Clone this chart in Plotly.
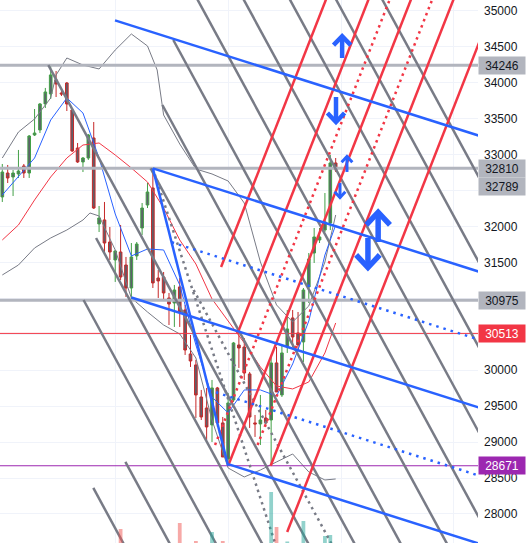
import plotly.graph_objects as go

# ---------------- candles (bar index 0..62) ----------------
OPEN = [32412,32745,32690,32732,32843,32745,33274,33344,33706,33845,
        34040,33859,33998,33622,33093,32899,32954,33233,32036,32092,
        31785,31535,31646,31465,31145,31591,31980,32300,32537,31284,
        31298,31006,30936,31159,30839,30227,30074,29628,29475,29239,
        29754,29267,28765,29587,30352,30324,29949,29267,29253,29336,
        29308,30102,29656,30324,30728,30519,30394,31159,31632,31813,
        31952,32050,32885]
HIGH = [32871,32857,32787,33066,32871,33274,33636,33720,33929,34246,
        34165,33901,34012,33636,33163,32968,33288,33455,32286,32342,
        31994,31674,32022,31577,31771,31785,32328,32606,32810,31396,
        31368,31076,31187,31284,30909,30491,30143,29726,29754,29865,
        29768,29350,29684,30394,30519,30449,29977,29378,29656,29447,
        30213,30324,30352,30839,30839,30811,31145,31632,31980,31980,
        32467,32996,32954]
LOW = [32342,32606,32425,32676,32676,32676,33260,33302,33650,33775,
       33803,33817,33608,33038,32885,32759,32927,32245,31924,31632,
       31535,31229,31256,31020,30975,31535,31883,32258,31145,31006,
       30992,30630,30603,30603,30213,30046,29336,29308,29030,29002,
       29211,28793,28671,29559,30032,29865,29197,29072,28960,29211,
       28690,29698,29628,30241,30324,30282,30115,30936,31493,31771,
       31924,31952,32759]
CLOSE = [32759,32676,32745,32773,32745,33260,33302,33706,33873,34110,
         33984,33845,33706,33052,32899,32954,33274,32258,32119,31771,
         31646,31660,31298,31145,31577,31757,32258,32481,31215,31243,
         31076,30922,31117,30811,30282,30129,29656,29350,29211,29754,
         29267,28793,29545,30380,30310,29962,29350,29253,29308,29267,
         30102,29698,30241,30575,30463,30352,31117,31549,31855,31855,
         32064,32885,32789]
VOLUME = [820,760,700,740,690,900,780,850,830,940,
          760,700,820,960,880,720,870,990,760,830,
          760,700,1140,880,930,780,860,900,990,760,
          740,800,770,1200,930,850,1020,880,900,1110,
          870,1020,980,950,720,800,900,760,820,790,
          1510,1160,990,1015,850,800,1220,960,880,700,
          1070,1080,750]
BARS = list(range(len(OPEN)))

# ---------------- indicators ----------------
MA_X = [0,3,6,9,12,15,18,21,24,27,30,33,36,39,42,45,48,51,54,57,60,62]
MA_Y = [31813,32022,32370,32690,32954,33135,33163,32996,32815,32620,32258,
        31813,31479,30992,30686,30380,30046,29781,29740,29837,30241,30658]
EMA_X = MA_X
EMA_Y = [32439,32690,32954,33483,33789,33580,32954,32175,31591,31688,31674,
         31187,30352,29628,29406,29726,29726,29642,30088,30686,31604,32022]
UB_X = [0,3,6,9,10,12,15,18,21,24,27,28.8,30,33,36,39,42,45,48,51,54,57,60,62]
UB_Y = [32954,33316,33497,33789,34109,34346,34248,34193,34457,34680,34513,34179,
        33553,33149,32801,32732,32634,32328,31507,30909,30672,30895,31507,32161]
LB_X = [0,3,6,9,12,15,16.3,18,21,24,27,30,33,36,39,42,45,48,51,54,57,60,62]
LB_Y = [31326,31465,31702,31841,31952,32091,32189,32147,31674,31006,30811,30630,
        30505,30171,29308,28640,28515,28612,28724,28835,28585,28473,28487]

# ---------------- axes ----------------
X_RANGE = [-0.43, 88.47]
Y_RANGE = [27596, 35153]
Y_TICKS = list(range(28000, 35001, 500))
Y_HIDDEN = [30500, 31000, 32500]          # covered by price labels in the reference
Y_TICK_TEXT = ['' if v in Y_HIDDEN else str(v) for v in Y_TICKS]
GRID_BARS = [21, 42, 63, 84]

# ---------------- horizontal levels ----------------
GRAY_LEVELS = [34246, 32810, 30975]
RED_LEVEL = 30513
PURPLE_LEVEL = 28671
LAST_CLOSE = 32789

# ---------------- gray parallel channel (down-right) ----------------
GRAY_REF_PRICE = 28334
GRAY_REF_BAR = 25.72
GRAY_STEP = 8.592
GRAY_SLOPE = -137.7
GRAY_K = [-1, 0, 1, 2, 3, 4, 5, 6, 7, 8, 9, 10, 11]
GRAY_START = [28362, 28724, 30978, 31841, 34246, 32810, 33692, 34596,
              None, None, None, None, None]
GRAY_DOT_K = [3.5]
GRAY_DOT_START = [31117]

# ---------------- pitchfork pivots ----------------
PIVOT_A = (28, 32810)
PIVOT_B = (42, 28671)
PIVOT_C = (50, 28690)

# ---------------- red parallel channel (up-right) ----------------
RED_REF_PRICE = 28671
RED_REF_BAR = 42.0
RED_STEP = 7.904
RED_SLOPE = 190.8
RED_J = [-2, -1, 0, 1, 2]
RED_START = [31437, 30513, 28671, 28671, 27750]
RED_DOT_J = [-0.5, 0.5]
RED_DOT_START = [28960, 28960]

# ---------------- blue channel ----------------
BLUE_SLOPE = -23.7
BLUE_HEIGHT = 3785
BLUE_LEVELS = [-0.5, 0, 0.25, 0.5, 0.75, 1]
BLUE_START = [20.96, 28, 31.5, 24, 38.4, 42]
BLUE_DOTTED = [False, False, True, False, True, False]

# ---------------- arrows: bar, tail price, tip price, head half-width (bars), head height, width ----------------
ARROWS = [
    (63.2, 34346, 34650, 1.6, 125, 4.5),
    (62.06, 33803, 33455, 1.6, 125, 4.5),
    (64.1, 32760, 32975, 1.0, 80, 3),
    (62.8, 32606, 32405, 1.0, 80, 3),
    (69.9, 31785, 32200, 2.2, 175, 5.5),
    (68.0, 31841, 31430, 2.2, 175, 5.5),
]

GRAY_C = '#787b86'
RED_C = '#f23645'
BLUE_C = '#2962ff'
LEVEL_C = '#b2b5be'
PURPLE_C = '#9c27b0'
TOP_P, BOT_P = 36500, 26800

fig = go.Figure()

# volume
vol_colors = ['rgba(38,166,154,0.5)' if c >= o else 'rgba(239,83,80,0.5)'
              for o, c in zip(OPEN, CLOSE)]
fig.add_trace(go.Bar(x=BARS, y=VOLUME, marker_color=vol_colors, marker_line_width=0,
                     width=0.7, yaxis='y2', hoverinfo='skip'))

# indicators
fig.add_trace(go.Scatter(x=UB_X, y=UB_Y, mode='lines', line=dict(color=GRAY_C, width=1)))
fig.add_trace(go.Scatter(x=LB_X, y=LB_Y, mode='lines', line=dict(color=GRAY_C, width=1)))
fig.add_trace(go.Scatter(x=MA_X, y=MA_Y, mode='lines', line=dict(color=RED_C, width=1)))
fig.add_trace(go.Scatter(x=EMA_X, y=EMA_Y, mode='lines', line=dict(color=BLUE_C, width=1)))

# candles
fig.add_trace(go.Candlestick(
    x=BARS, open=OPEN, high=HIGH, low=LOW, close=CLOSE, whiskerwidth=0,
    increasing=dict(line=dict(color='#43a047', width=1), fillcolor='#5d606b'),
    decreasing=dict(line=dict(color='#c62828', width=1), fillcolor='#5d606b'),
    hoverinfo='skip'))

# horizontal levels
for lv in GRAY_LEVELS:
    fig.add_trace(go.Scatter(x=[X_RANGE[0] - 5, X_RANGE[1] + 5], y=[lv, lv], mode='lines',
                             line=dict(color=LEVEL_C, width=3)))
fig.add_trace(go.Scatter(x=[X_RANGE[0] - 5, X_RANGE[1] + 5], y=[RED_LEVEL, RED_LEVEL], mode='lines',
                         line=dict(color=RED_C, width=1)))
fig.add_trace(go.Scatter(x=[X_RANGE[0] - 5, X_RANGE[1] + 5], y=[PURPLE_LEVEL, PURPLE_LEVEL], mode='lines',
                         line=dict(color=PURPLE_C, width=1)))


def collect(segs):
    xs, ys = [], []
    for (x0, y0), (x1, y1) in segs:
        xs += [x0, x1, None]
        ys += [y0, y1, None]
    return xs, ys


# gray channel
def gray_bar(k, p):
    return GRAY_REF_BAR + GRAY_STEP * k + (p - GRAY_REF_PRICE) / GRAY_SLOPE


segs = []
for k, s in zip(GRAY_K, GRAY_START):
    s = TOP_P if s is None else s
    segs.append(((gray_bar(k, s), s), (gray_bar(k, BOT_P), BOT_P)))
xs, ys = collect(segs)
fig.add_trace(go.Scatter(x=xs, y=ys, mode='lines', line=dict(color=GRAY_C, width=2.5)))

segs = []
for k, s in zip(GRAY_DOT_K, GRAY_DOT_START):
    segs.append(((gray_bar(k, s), s), (gray_bar(k, BOT_P), BOT_P)))
# median from A through midpoint of B and C
mid = ((PIVOT_B[0] + PIVOT_C[0]) / 2, (PIVOT_B[1] + PIVOT_C[1]) / 2)
msl = (mid[1] - PIVOT_A[1]) / (mid[0] - PIVOT_A[0])
segs.append((PIVOT_A, (PIVOT_A[0] + (BOT_P - PIVOT_A[1]) / msl, BOT_P)))
xs, ys = collect(segs)
fig.add_trace(go.Scatter(x=xs, y=ys, mode='lines',
                         line=dict(color=GRAY_C, width=2.5, dash='2.5px,4px')))


# red channel
def red_bar(j, p):
    return RED_REF_BAR + RED_STEP * j + (p - RED_REF_PRICE) / RED_SLOPE


segs = [((red_bar(j, s), s), (red_bar(j, TOP_P), TOP_P)) for j, s in zip(RED_J, RED_START)]
xs, ys = collect(segs)
fig.add_trace(go.Scatter(x=xs, y=ys, mode='lines', line=dict(color=RED_C, width=2.5)))
segs = [((red_bar(j, s), s), (red_bar(j, TOP_P), TOP_P)) for j, s in zip(RED_DOT_J, RED_DOT_START)]
xs, ys = collect(segs)
fig.add_trace(go.Scatter(x=xs, y=ys, mode='lines',
                         line=dict(color=RED_C, width=2.5, dash='2.5px,4px')))


# blue channel
def blue_price(level, b):
    return PIVOT_A[1] - level * BLUE_HEIGHT + BLUE_SLOPE * (b - PIVOT_A[0])


solid, dotted = [], []
for lv, st, dt in zip(BLUE_LEVELS, BLUE_START, BLUE_DOTTED):
    seg = ((st, blue_price(lv, st)), (X_RANGE[1] + 10, blue_price(lv, X_RANGE[1] + 10)))
    (dotted if dt else solid).append(seg)
solid.append((PIVOT_A, PIVOT_B))
xs, ys = collect(solid)
fig.add_trace(go.Scatter(x=xs, y=ys, mode='lines', line=dict(color=BLUE_C, width=2.5)))
xs, ys = collect(dotted)
fig.add_trace(go.Scatter(x=xs, y=ys, mode='lines',
                         line=dict(color=BLUE_C, width=2.5, dash='2.5px,5px')))

# arrows
for b, tail, tip, hw, hh, w in ARROWS:
    d = 1 if tip > tail else -1
    fig.add_trace(go.Scatter(x=[b, b, None, b - hw, b, b + hw],
                             y=[tail, tip, None, tip - d * hh, tip, tip - d * hh],
                             mode='lines', line=dict(color=BLUE_C, width=w)))

# price labels on the axis
labels = [
    (34246, 0, LEVEL_C, '#131722'),
    (32810, 0, LEVEL_C, '#131722'),
    (LAST_CLOSE, -17, LEVEL_C, '#131722'),
    (30975, 0, LEVEL_C, '#131722'),
    (RED_LEVEL, 0, RED_C, '#ffffff'),
    (PURPLE_LEVEL, 0, PURPLE_C, '#ffffff'),
]
for price, ysh, bg, fg in labels:
    fig.add_annotation(x=1, xref='paper', y=price, yref='y', xanchor='left', yanchor='middle',
                       text=str(price), showarrow=False, bgcolor=bg, yshift=ysh,
                       font=dict(family='Liberation Sans, Arial', size=12, color=fg),
                       width=42, height=13, borderpad=2, align='center')

fig.update_layout(
    width=527, height=543, margin=dict(l=0, r=49, t=0, b=0),
    paper_bgcolor='white', plot_bgcolor='white', showlegend=False,
    xaxis=dict(range=X_RANGE, showticklabels=False, tickvals=GRID_BARS, showgrid=True,
               gridcolor='#f0f3fa', zeroline=False, rangeslider=dict(visible=False),
               showline=False, ticks=''),
    yaxis=dict(range=Y_RANGE, side='right', tickvals=Y_TICKS, ticktext=Y_TICK_TEXT,
               showgrid=True, gridcolor='#f0f3fa', zeroline=False, ticks='',
               ticklabelstandoff=5,
               tickfont=dict(family='Liberation Sans, Arial', size=12, color='#131722')),
    yaxis2=dict(range=[1000, 6430], overlaying='y', visible=False, fixedrange=True),
    hovermode=False,
)

fig.write_html('out.html', config={'displayModeBar': False},
               post_script="document.body.style.margin='0';document.body.style.overflow='hidden';")
